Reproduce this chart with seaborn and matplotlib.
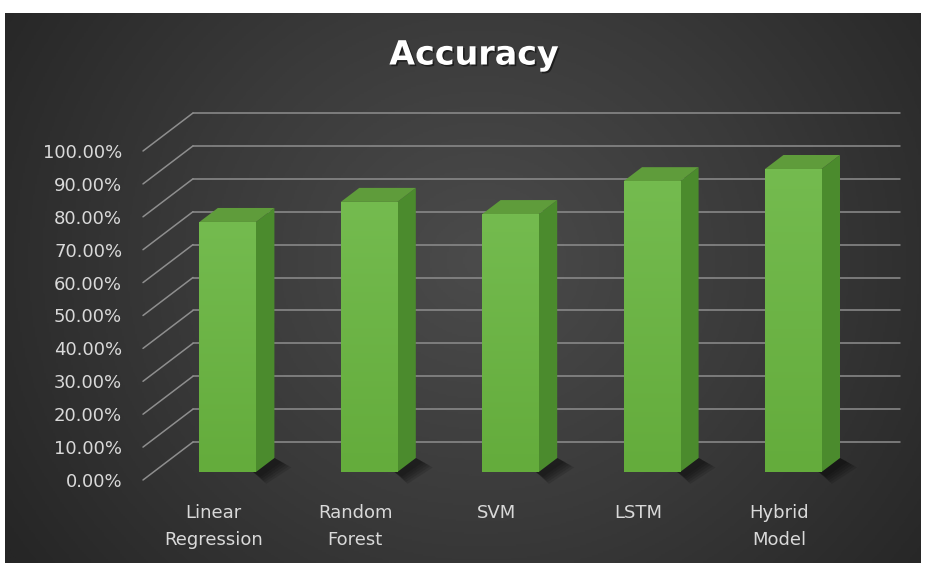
import matplotlib
matplotlib.use("Agg")
import matplotlib.pyplot as plt
import matplotlib.patheffects as pe
from matplotlib.colors import LinearSegmentedColormap
from matplotlib.patches import Polygon
import seaborn as sns
import numpy as np
import pandas as pd

# ---- data ----
models = ["Linear\nRegression", "Random\nForest", "SVM", "LSTM", "Hybrid\nModel"]
accuracy = [76.0, 82.1, 78.4, 88.4, 92.1]
y_ticks = [0, 10, 20, 30, 40, 50, 60, 70, 80, 90, 100]

W, H = 925, 563

sns.set_theme(style="dark")
plt.rcParams["font.family"] = ["DejaVu Sans"]

fig = plt.figure(figsize=(W / 100, H / 100), dpi=100, facecolor="white")

# ---- dark panel with soft radial gradient ----
bg = fig.add_axes([5 / W, 0, 916 / W, 550 / H])
yy, xx = np.mgrid[0:1:300j, 0:1:500j]
r = np.sqrt(((xx - 0.52) / 0.62) ** 2 + ((yy - 0.45) / 0.95) ** 2)
bg_cmap = LinearSegmentedColormap.from_list("bg", ["#4b4b4b", "#3a3a3a", "#262626"])
bg.imshow(r, cmap=bg_cmap, vmin=0, vmax=1, aspect="auto", extent=[0, 1, 0, 1])
bg.axis("off")

# ---- main axes = front plane of the 3d box ----
ax = fig.add_axes([143 / W, (563 - 480) / H, 707 / W, 329 / H])
ax.patch.set_alpha(0)

df = pd.DataFrame({"model": models, "accuracy": accuracy})
sns.barplot(data=df, x="model", y="accuracy", color="#6db546", saturation=1,
            width=0.4, errorbar=None, ax=ax, zorder=3)

# depth of the box in data units (50 px right, 38 px up)
dx = 50 / (707 / 5)
dy = 38 / 3.29
f0, f1 = 8 / 38, 22 / 38          # bar sits between these depth fractions
ddx, ddy = (f1 - f0) * dx, (f1 - f0) * dy
shift_x = 0.28 * dx

# gridlines: side-wall diagonals + back-wall horizontals
for t in y_ticks:
    ax.plot([-0.5, -0.5 + dx], [t, t + dy], color="#8e8e8e", lw=1.1,
            clip_on=False, zorder=1)
    ax.plot([-0.5 + dx, 4.5 + dx], [t + dy, t + dy], color="#8e8e8e", lw=1.1,
            clip_on=False, zorder=1)

# vertical shading for the front faces
shade = LinearSegmentedColormap.from_list("shade", ["#64ac3c", "#74bb4f"])
grad = np.linspace(0, 1, 100).reshape(-1, 1)

# turn flat bars into 3d columns
for bar in ax.patches[:]:
    x0 = bar.get_x() + shift_x
    w = bar.get_width()
    h = bar.get_height()
    b = f0 * dy
    bar.set_x(x0)
    bar.set_y(b)
    bar.set_edgecolor("none")
    bar.set_clip_on(False)
    x1 = x0 + w
    img = ax.imshow(grad, cmap=shade, aspect="auto", origin="lower",
                    extent=[x0, x1, b, b + h], zorder=3.5)
    img.set_clip_path(bar)
    # soft shadow on the floor
    for k in range(5):
        s = 1 + 0.35 * k
        ax.add_patch(Polygon([(x1 - 0.02, b), (x1 + ddx, b + ddy),
                              (x1 + ddx + 0.05 * s, b + ddy - 1.2 * s),
                              (x1 + 0.03 * s, b - 1.5 * s)],
                             closed=True, color="black", alpha=0.12, lw=0,
                             zorder=2, clip_on=False))
    ax.add_patch(Polygon([(x1, b), (x1 + ddx, b + ddy), (x1 + ddx, b + h + ddy), (x1, b + h)],
                         closed=True, color="#4b8b2d", lw=0, zorder=3, clip_on=False))
    ax.add_patch(Polygon([(x0, b + h), (x1, b + h), (x1 + ddx, b + h + ddy), (x0 + ddx, b + h + ddy)],
                         closed=True, color="#5f9c3b", lw=0, zorder=3, clip_on=False))

ax.set_xlim(-0.5, 4.5)
ax.set_ylim(0, 100)
ax.set_yticks(y_ticks)
ax.set_yticklabels([f"{t:.2f}%" for t in y_ticks])
ax.set_xlabel("")
ax.set_ylabel("")
ax.grid(False)
for s in ax.spines.values():
    s.set_visible(False)
ax.tick_params(axis="y", length=0, pad=15, labelsize=13, labelcolor="#d9d9d9")
ax.tick_params(axis="x", length=0, pad=17, labelsize=13, labelcolor="#d9d9d9")
for lbl in ax.get_xticklabels():
    lbl.set_linespacing(1.65)

fig.text(474 / W, 1 - 55 / H, "Accuracy", ha="center", va="center", fontsize=24,
         fontweight="bold", color="white",
         path_effects=[pe.withSimplePatchShadow(offset=(1.2, -1.2), shadow_rgbFace="black", alpha=0.5)])

fig.savefig("out.png", dpi=100, facecolor="white")
